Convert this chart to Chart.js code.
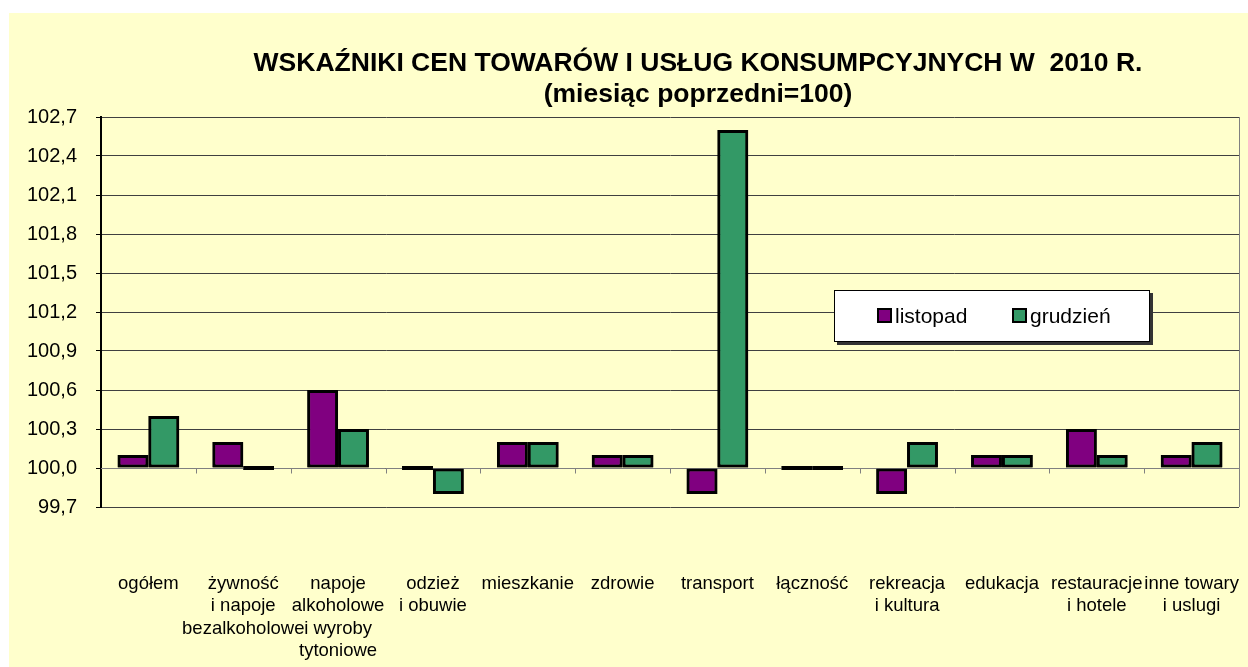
<!DOCTYPE html>
<html>
<head>
<meta charset="utf-8">
<script src="https://cdn.jsdelivr.net/npm/chart.js@4/dist/chart.umd.min.js"></script>
<style>
    html, body { margin: 0; padding: 0; background: #ffffff; overflow: hidden; }
    #ramka {
        position: absolute;
        left: 9px;
        top: 13px;
        width: 1239px;
        height: 654px;
        background: #ffffcc;
    }
    canvas { display: block; }
</style>
</head>
<body>
<div id="ramka"><canvas id="wykres" width="1239" height="654"></canvas></div>
<script>
const kategorie = [
    "ogółem",
    ["żywność", "i napoje", "bezalkoholowe"],
    ["napoje", "alkoholowe", "i wyroby", "tytoniowe"],
    ["odzież", "i obuwie"],
    "mieszkanie",
    "zdrowie",
    "transport",
    "łączność",
    ["rekreacja", "i kultura"],
    "edukacja",
    ["restauracje", "i hotele"],
    ["inne towary", "i uslugi"]
];
const listopad = [100.1, 100.2, 100.6, 100.0, 100.2, 100.1, 99.8, 100.0, 99.8, 100.1, 100.3, 100.1];
const grudzien = [100.4, 100.0, 100.3, 99.8, 100.2, 100.1, 102.6, 100.0, 100.2, 100.1, 100.1, 100.2];
const osY = { min: 99.7, max: 102.7, krok: 0.3, baza: 100 };

const kolory = { listopad: "#800080", grudzien: "#339966" };

// --- Tytuł, linia 100, legenda ---
const dodatki = {
    id: "dodatki",
    afterDatasetsDraw(chart) {
        const ctx = chart.ctx;
        const area = chart.chartArea;
        const y = chart.scales.y;
        ctx.save();

        // prawa krawędź obszaru wykresu
        ctx.strokeStyle = "#808080";
        ctx.lineWidth = 1;
        ctx.beginPath();
        ctx.moveTo(area.right + 0.5, area.top);
        ctx.lineTo(area.right + 0.5, area.bottom);
        ctx.stroke();

        // oś kategorii przy 100
        const y100 = Math.round(y.getPixelForValue(osY.baza)) + 0.5;
        ctx.beginPath();
        ctx.moveTo(area.left, y100);
        ctx.lineTo(area.right, y100);
        const szer = (area.right - area.left) / kategorie.length;
        for (let i = 1; i < kategorie.length; i++) {
            const xx = Math.round(area.left + i * szer) + 0.5;
            ctx.moveTo(xx, y100);
            ctx.lineTo(xx, y100 + 5);
        }
        ctx.stroke();

        // słupki ponad linią
        chart.getSortedVisibleDatasetMetas().forEach(m => m.controller.draw());

        // tytuł
        ctx.fillStyle = "#000";
        ctx.textAlign = "center";
        ctx.textBaseline = "alphabetic";
        ctx.font = "bold 26.5px 'Liberation Sans', Arial, sans-serif";
        ctx.fillText("WSKAŹNIKI CEN TOWARÓW I USŁUG KONSUMPCYJNYCH W  2010 R.", 689, 58);
        ctx.fillText("(miesiąc poprzedni=100)", 689, 89);

        // legenda
        ctx.fillStyle = "#333";
        ctx.fillRect(828, 280, 316, 52);
        ctx.fillStyle = "#fff";
        ctx.fillRect(825, 277, 316, 52);
        ctx.strokeStyle = "#000";
        ctx.lineWidth = 1;
        ctx.strokeRect(825.5, 277.5, 315, 51);

        const wpisy = [
            { tekst: "listopad", kolor: kolory.listopad, x: 869 },
            { tekst: "grudzień", kolor: kolory.grudzien, x: 1004 }
        ];
        ctx.font = "21px 'Liberation Sans', Arial, sans-serif";
        ctx.textAlign = "left";
        ctx.textBaseline = "middle";
        wpisy.forEach(w => {
            ctx.fillStyle = w.kolor;
            ctx.fillRect(w.x, 296, 13, 13);
            ctx.strokeStyle = "#000";
            ctx.lineWidth = 2;
            ctx.strokeRect(w.x, 296, 13, 13);
            ctx.fillStyle = "#000";
            ctx.fillText(w.tekst, w.x + 17, 304);
        });
        ctx.restore();
    }
};

new Chart(document.getElementById("wykres"), {
    type: "bar",
    data: {
        labels: kategorie,
        datasets: [
            {
                label: "listopad",
                data: listopad,
                base: osY.baza,
                backgroundColor: kolory.listopad,
                borderColor: "#000",
                borderWidth: 3,
                borderSkipped: false,
                minBarLength: 4
            },
            {
                label: "grudzień",
                data: grudzien,
                base: osY.baza,
                backgroundColor: kolory.grudzien,
                borderColor: "#000",
                borderWidth: 3,
                borderSkipped: false,
                minBarLength: 4
            }
        ]
    },
    options: {
        responsive: false,
        animation: false,
        layout: { padding: { top: 104, right: 9, left: 0, bottom: 0 } },
        datasets: { bar: { categoryPercentage: 0.65, barPercentage: 1.0 } },
        plugins: {
            legend: { display: false },
            title: { display: false },
            tooltip: { enabled: false }
        },
        scales: {
            x: {
                grid: { display: false, drawTicks: true, tickLength: 63 },
                border: { display: false },
                ticks: {
                    color: "#000",
                    padding: 3,
                    maxRotation: 0,
                    autoSkip: false,
                    font: { family: "'Liberation Sans', Arial, sans-serif", size: 18.5, lineHeight: 1.2 }
                },
                afterFit(scale) { scale.height = 160; }
            },
            y: {
                min: osY.min,
                max: osY.max,
                ticks: {
                    stepSize: osY.krok,
                    color: "#000",
                    padding: 19,
                    font: { family: "'Liberation Sans', Arial, sans-serif", size: 20 },
                    callback: v => v.toFixed(1).replace(".", ",")
                },
                grid: {
                    color: "#404040",
                    tickColor: "#000",
                    tickLength: 5,
                    tickBorderDash: [],
                    borderDash: [1, 1]
                },
                border: { display: true, color: "#000", width: 2 },
                afterFit(scale) { scale.width = 92; }
            }
        }
    },
    plugins: [dodatki]
});
</script>
</body>
</html>
